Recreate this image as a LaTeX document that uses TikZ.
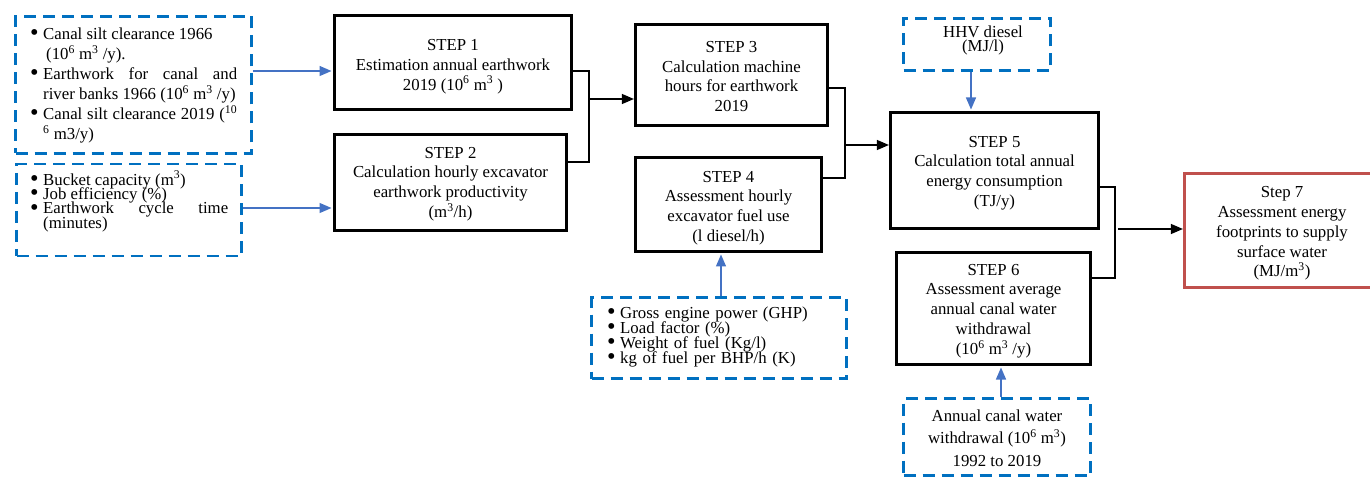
\documentclass[tikz,border=0pt]{standalone}
\usepackage{fontspec}
\usepackage{graphicx}
\setmainfont{Liberation Serif}
\usetikzlibrary{arrows.meta,calc}
\definecolor{dblue}{HTML}{0070C0}
\definecolor{ablue}{HTML}{4472C4}
\definecolor{sred}{HTML}{C0504D}
\newcommand{\myitem}{\par\noindent\hangindent=13pt\hangafter=1\makebox[13pt][l]{\raisebox{-1.3pt}{\scalebox{1.45}{\textbullet}}}}
\newcommand{\tightlines}{\lineskiplimit=-30pt\relax\hyphenpenalty=10000\relax}
\begin{document}
\begin{tikzpicture}[x=1pt,y=-1pt,
 stepbox/.style={draw=black,line width=3.2pt,rectangle,inner sep=0pt},
 steptext/.style={inner sep=0pt,align=center,font=\fontsize{16.8}{19.8}\selectfont},
 inbox/.style={draw=dblue,line width=2.8pt,dash pattern=on 12pt off 7pt,rectangle,inner sep=0pt},
 txt/.style={inner sep=0pt},
 conn/.style={line width=1.3pt,black},
 karrow/.style={conn,-{Triangle[length=12pt,width=10pt]}},
 barrow/.style={line width=1.3pt,ablue,-{Triangle[length=12pt,width=10pt]},shorten >=1.4pt}]
\useasboundingbox (0,0) rectangle (1370,478);
% input boxes
\node[inbox,minimum width=236pt,minimum height=137pt] (A) at (133.5,85) {};
\node[inbox,minimum width=225pt,minimum height=92pt] (B) at (129,210) {};
\node[inbox,minimum width=255pt,minimum height=81pt] (C) at (719,338) {};
\node[inbox,minimum width=147pt,minimum height=52pt] (D) at (977,44.5) {};
\node[inbox,minimum width=187pt,minimum height=77pt] (E) at (997,437) {};
% input texts
\node[txt,anchor=north west,text width=207pt,align=justify,font=\fontsize{16.8}{20}\selectfont] (tA) at (30,19.5) {\tightlines
\myitem Canal silt clearance 1966\newline\hspace*{3pt}(10\textsuperscript{6} m\textsuperscript{3} /y).
\myitem Earthwork for canal and\linebreak river banks 1966 (10\textsuperscript{6} m\textsuperscript{3} /y)
\myitem Canal silt clearance 2019 (\textsuperscript{10}\linebreak \textsuperscript{6} m3/y)\par};
\node[txt,anchor=north west,text width=198pt,align=justify,font=\fontsize{16.8}{14.4}\selectfont] (tB) at (30,170.5) {\tightlines
\myitem Bucket capacity (m\textsuperscript{3})
\myitem Job efficiency (\%)
\myitem Earthwork cycle time\linebreak (minutes)\par};
\node[txt,anchor=north west,text width=238pt,align=left,font=\fontsize{16.8}{15}\selectfont] (tC) at (607,303) {\tightlines
\myitem Gross engine power (GHP)
\myitem Load factor (\%)
\myitem Weight of fuel (Kg/l)
\myitem kg of fuel per BHP/h (K)\par};
\node[txt,align=center,font=\fontsize{16.8}{14.5}\selectfont] (tD) at (983,40.5) {\tightlines HHV diesel\\(MJ/l)};
\node[txt,align=center,font=\fontsize{16.8}{22.5}\selectfont] (tE) at (997,438) {Annual canal water\\withdrawal (10\textsuperscript{6} m\textsuperscript{3})\\1992 to 2019};
% step boxes
\node[stepbox,minimum width=237pt,minimum height=94pt] (s1) at (453,62.5) {};
\node[stepbox,minimum width=232pt,minimum height=96pt] (s2) at (450.5,182.5) {};
\node[stepbox,minimum width=192pt,minimum height=101pt] (s3) at (731.5,75) {};
\node[stepbox,minimum width=186pt,minimum height=94pt] (s4) at (728.5,204.5) {};
\node[stepbox,minimum width=208pt,minimum height=116pt] (s5) at (994.5,170.5) {};
\node[stepbox,minimum width=194pt,minimum height=112pt] (s6) at (993.5,308.5) {};
\node[stepbox,draw=sred,minimum width=195pt,minimum height=114pt] (s7) at (1282,230.5) {};
% step texts
\node[steptext] (t1) at ($(s1)+(0,4)$) {STEP 1\\Estimation annual earthwork\\2019 (10\textsuperscript{6} m\textsuperscript{3} )};
\node[steptext] (t2) at ($(s2)+(0,1.5)$) {STEP 2\\Calculation hourly excavator\\earthwork productivity\\(m\textsuperscript{3}/h)};
\node[steptext] (t3) at ($(s3)+(0,1.5)$) {STEP 3\\Calculation machine\\hours for earthwork\\2019};
\node[steptext] (t4) at ($(s4)+(0,3.5)$) {STEP 4\\Assessment hourly\\excavator fuel use\\(l diesel/h)};
\node[steptext] (t5) at ($(s5)+(0,2.5)$) {STEP 5\\Calculation total annual\\energy consumption\\(TJ/y)};
\node[steptext] (t6) at ($(s6)+(0,2.5)$) {STEP 6\\Assessment average\\annual canal water\\withdrawal\\(10\textsuperscript{6} m\textsuperscript{3} /y)};
\node[steptext] (t7) at ($(s7)+(0,3)$) {Step 7\\Assessment energy\\footprints to supply\\surface water\\(MJ/m\textsuperscript{3})};
% coordinates
\coordinate (yA) at (0,71);
\coordinate (yB) at (0,208);
\coordinate (b1t) at (589,71);
\coordinate (b1b) at (589,162);
\coordinate (b1m) at (589,99);
\coordinate (b2t) at (845,88);
\coordinate (b2b) at (845,178);
\coordinate (b2m) at (845,145);
\coordinate (b3t) at (1115,187);
\coordinate (b3b) at (1115,278);
\coordinate (b3m) at (1118,229);
\coordinate (xC) at (721,0);
\coordinate (xD) at (971,0);
\coordinate (xE) at (1001,0);
% connectors
\draw[barrow] (A.east |- yA) -- (s1.west |- yA);
\draw[barrow] (B.east |- yB) -- (s2.west |- yB);
\draw[conn] (s1.east |- b1t) -- (b1t) -- (b1b) -- (s2.east |- b1b);
\draw[karrow] (b1m) -- (s3.west |- b1m);
\draw[conn] (s3.east |- b2t) -- (b2t) -- (b2b) -- (s4.east |- b2b);
\draw[karrow] (b2m) -- (s5.west |- b2m);
\draw[conn] (s5.east |- b3t) -- (b3t) -- (b3b) -- (s6.east |- b3b);
\draw[karrow] (b3m) -- (s7.west |- b3m);
\draw[barrow] (C.north -| xC) -- (s4.south -| xC);
\draw[barrow] (D.south -| xD) -- (s5.north -| xD);
\draw[barrow] (E.north -| xE) -- (s6.south -| xE);
\end{tikzpicture}
\end{document}
